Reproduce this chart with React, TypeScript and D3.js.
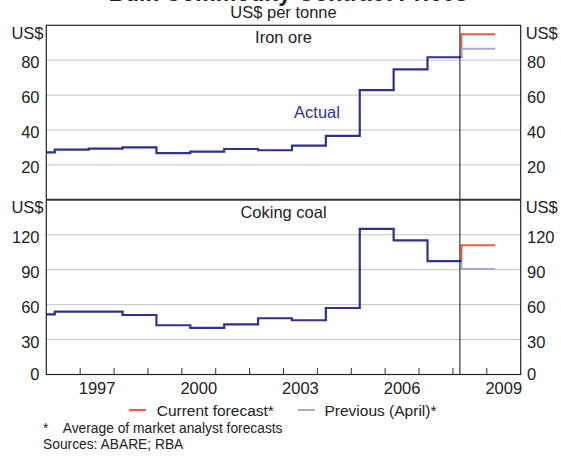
import React from "react";
import * as d3 from "d3";

// ---- data ----
const periodStarts = [1996.0, 1996.25, 1997.25, 1998.25, 1999.25, 2000.25, 2001.25, 2002.25, 2003.25, 2004.25, 2005.25, 2006.25, 2007.25];
const actualEnd = 2008.25;
const forecastEnd = 2009.25;
const ironOre = [27.2, 28.8, 29.3, 30.1, 26.7, 27.6, 29.1, 28.4, 31.0, 36.6, 62.9, 74.7, 81.7];
const cokingCoal = [51.7, 54.0, 54.0, 51.1, 42.3, 40.0, 43.1, 48.3, 46.6, 57.1, 125.1, 115.1, 97.4];
const ironCurrent = 94.9;
const ironPrevious = 86.5;
const coalCurrent = 110.9;
const coalPrevious = 90.6;
const ironTicks = [20, 40, 60, 80];
const coalTicks = [0, 30, 60, 90, 120];
const yearTicks = [1997, 1998, 1999, 2000, 2001, 2002, 2003, 2004, 2005, 2006, 2007, 2008, 2009];
const yearLabels = [1997, 2000, 2003, 2006, 2009];

const W = 561;
const H = 459;
const FONT = "'Liberation Sans', Arial, Helvetica, sans-serif";
const BLUE = "#2e3192";
const RED = "#f15a3a";
const PURPLE = "#a6a8dc";
const GRID = "#c4c5cc";
const TEXT = "#222";

const left = 46.3;
const right = 520.7;
const top1 = 25.3;
const mid = 199.8;
const bottom = 374.5;

const x = d3.scaleLinear().domain([1996, 2010]).range([left, right]);
const yIron = d3.scaleLinear().domain([0, 100]).range([mid, top1]);
const yCoal = d3.scaleLinear().domain([0, 150]).range([bottom, mid]);

const stepLine = (y: d3.ScaleLinear<number, number>) =>
  d3
    .line<[number, number]>()
    .x((d) => x(d[0]))
    .y((d) => y(d[1]))
    .curve(d3.curveStepAfter);

const plainLine = (y: d3.ScaleLinear<number, number>) =>
  d3
    .line<[number, number]>()
    .x((d) => x(d[0]))
    .y((d) => y(d[1]));

function actualPts(vals: number[]): [number, number][] {
  const pts: [number, number][] = periodStarts.map((s, i) => [s, vals[i]]);
  pts.push([actualEnd, vals[vals.length - 1]]);
  return pts;
}

function forecastPts(last: number, v: number): [number, number][] {
  return [
    [actualEnd, last],
    [actualEnd, v],
    [forecastEnd, v],
  ];
}

function Panel({
  y,
  vals,
  cur,
  prev,
  ticks,
  title,
  topY,
}: {
  y: d3.ScaleLinear<number, number>;
  vals: number[];
  cur: number;
  prev: number;
  ticks: number[];
  title: string;
  topY: number;
}) {
  const last = vals[vals.length - 1];
  return (
    <g>
      {ticks.map((t) =>
        t > 0 ? (
          <line key={"g" + t} x1={left} x2={right} y1={y(t)} y2={y(t)} stroke={GRID} strokeWidth={1} />
        ) : null
      )}
      <path d={plainLine(y)(forecastPts(last, cur)) || ""} fill="none" stroke={RED} strokeWidth={2} />
      <path d={plainLine(y)(forecastPts(last, prev)) || ""} fill="none" stroke={PURPLE} strokeWidth={2} />
      <path d={stepLine(y)(actualPts(vals)) || ""} fill="none" stroke={BLUE} strokeWidth={2.2} />
      {ticks.map((t) => (
        <g key={"l" + t} fontSize={16.5} fill={TEXT}>
          <text x={39.5} y={t === 0 ? y(t) + 5.5 : y(t) + 8} textAnchor="end">
            {t}
          </text>
          <text x={527} y={t === 0 ? y(t) + 5.5 : y(t) + 8} textAnchor="start">
            {t}
          </text>
        </g>
      ))}
      <text x={43.5} y={topY + 13.5} textAnchor="end" fontSize={16.5} fill={TEXT}>
        US$
      </text>
      <text x={525.7} y={topY + 13.5} textAnchor="start" fontSize={16.5} fill={TEXT}>
        US$
      </text>
      <text x={(left + right) / 2} y={topY + 18} textAnchor="middle" fontSize={16.5} fill={TEXT}>
        {title}
      </text>
    </g>
  );
}

export default function App() {
  const sepX = x(actualEnd) - 1.5;
  return (
    <svg
      width={W}
      height={H}
      viewBox={`0 0 ${W} ${H}`}
      style={{ position: "absolute", left: 0, top: 0, background: "#fff" }}
      fontFamily={FONT}
    >
      <rect x={0} y={0} width={W} height={H} fill="#fff" />
      <text x={288} y={0.5} textAnchor="middle" fontSize={23} fontWeight="bold" fill={TEXT}>
        Bulk Commodity Contract Prices
      </text>
      <text x={(left + right) / 2} y={18.3} textAnchor="middle" fontSize={16.5} fill={TEXT}>
        US$ per tonne
      </text>

      <Panel y={yIron} vals={ironOre} cur={ironCurrent} prev={ironPrevious} ticks={ironTicks} title="Iron ore" topY={top1} />
      <Panel y={yCoal} vals={cokingCoal} cur={coalCurrent} prev={coalPrevious} ticks={coalTicks} title="Coking coal" topY={mid} />

      <text x={317} y={118} textAnchor="middle" fontSize={16.5} fill={BLUE}>
        Actual
      </text>

      {/* forecast separator */}
      <line x1={sepX} x2={sepX} y1={top1} y2={bottom} stroke="#111" strokeWidth={1} />

      {/* x ticks */}
      {yearTicks.map((t) => (
        <line key={t} x1={x(t)} x2={x(t)} y1={bottom} y2={bottom - 6.5} stroke="#333" strokeWidth={1} />
      ))}
      {yearLabels.map((t) => (
        <text key={"y" + t} x={x(t + 0.5)} y={393.5} textAnchor="middle" fontSize={16.5} fill={TEXT}>
          {t}
        </text>
      ))}

      {/* frame */}
      <rect x={left} y={top1} width={right - left} height={bottom - top1} fill="none" stroke="#222" strokeWidth={1.2} />
      <line x1={left} x2={right} y1={mid} y2={mid} stroke="#333" strokeWidth={2} />

      {/* legend */}
      <line x1={129.3} x2={146} y1={410} y2={410} stroke={RED} strokeWidth={2} />
      <text x={156.7} y={415.6} fontSize={15.5} fill={TEXT}>
        Current forecast*
      </text>
      <line x1={298} x2={315} y1={410} y2={410} stroke={PURPLE} strokeWidth={2} />
      <text x={324.5} y={415.6} fontSize={15.5} fill={TEXT}>
        Previous (April)*
      </text>

      {/* notes */}
      <text x={43} y={433} fontSize={13.8} fill={TEXT}>
        *
      </text>
      <text x={62.7} y={433} fontSize={13.8} fill={TEXT}>
        Average of market analyst forecasts
      </text>
      <text x={43} y={449} fontSize={13.8} fill={TEXT}>
        Sources: ABARE; RBA
      </text>
    </svg>
  );
}
